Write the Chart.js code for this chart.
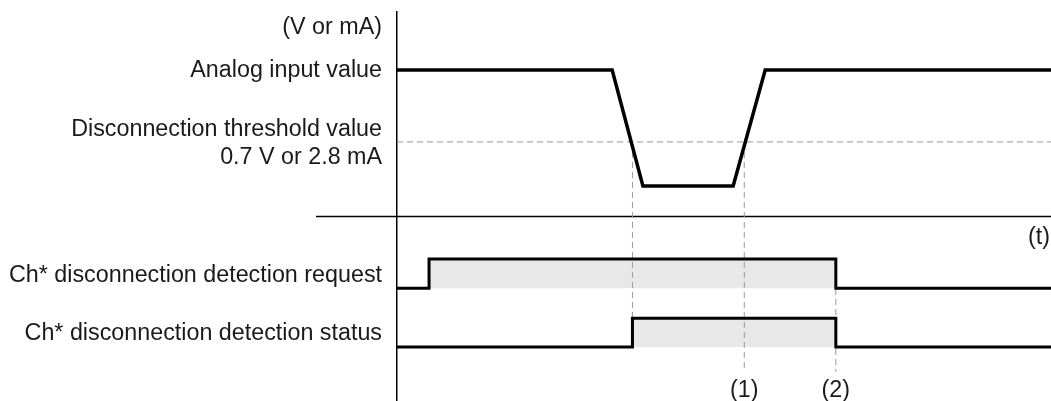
<!DOCTYPE html>
<html>
<head>
<meta charset="utf-8">
<script src="https://cdn.jsdelivr.net/npm/chart.js@4/dist/chart.umd.min.js"></script>
<style>
  html, body { margin: 0; padding: 0; background: #fff; }
  #wrap { width: 1051px; height: 401px; position: relative; }
</style>
</head>
<body>
<div id="wrap"><canvas id="c"></canvas></div>
<script>
// ---- Data (time in arbitrary units 0..100, level in arbitrary units 0..100) ----
const analogTimes   = [0, 32.9, 37.6, 51.4, 56.3, 100];
const analogLevels  = [85.1, 85.1, 55.3, 55.3, 85.1, 85.1];
const thresholdLevel = 66.6;
const timeAxisLevel  = 47.6;

const requestTimes  = [0, 4.9, 67.1, 100];
const requestLevels = [29.0, 36.5, 29.0, 29.0];
const requestLow    = 29.0;

const statusTimes   = [0, 36.0, 67.1, 100];
const statusLevels  = [13.9, 21.3, 13.9, 13.9];
const statusLow     = 13.9;

// dashed guide lines: [time, fromLevel, toLevel]
const guideTimes  = [36.0, 53.1, 67.1];
const guideFrom   = [66.6, 66.6, 36.5];
const guideTo     = [21.3, 7.5, 7.5];

// row labels
const rowLabelLevels = [96.0, 85.0, 66.1, 32.2, 17.3];
const rowLabels = [
  "(V or mA)",
  "Analog input value",
  ["Disconnection threshold value", "0.7 V or 2.8 mA"],
  "Ch* disconnection detection request",
  "Ch* disconnection detection status"
];
const markerLabels = ["(1)", "(2)"];
const markerTimes  = [53.1, 67.1];
const markerLevel  = 2.7;
const timeUnitLabel = "(t)";
const timeUnitLevel = 41.9;

const toPts = (xs, ys) => xs.map((x, i) => ({ x: x, y: ys[i] }));

const datasets = [
  { label: "analog", data: toPts(analogTimes, analogLevels),
    borderColor: "#000", borderWidth: 3.5, pointRadius: 0, fill: false,
    borderJoinStyle: "miter", borderCapStyle: "butt" },
  { label: "request", data: toPts(requestTimes, requestLevels), stepped: "before",
    borderColor: "#000", borderWidth: 3, pointRadius: 0,
    fill: { value: requestLow }, backgroundColor: "#e8e8e8",
    borderJoinStyle: "miter", borderCapStyle: "butt" },
  { label: "status", data: toPts(statusTimes, statusLevels), stepped: "before",
    borderColor: "#000", borderWidth: 3, pointRadius: 0,
    fill: { value: statusLow }, backgroundColor: "#e8e8e8",
    borderJoinStyle: "miter", borderCapStyle: "butt" },
  { label: "threshold", data: toPts([0, 100], [thresholdLevel, thresholdLevel]),
    borderColor: "#999", borderWidth: 1, borderDash: [6, 4], pointRadius: 0, fill: false }
];
guideTimes.forEach((t, i) => {
  datasets.push({ label: "guide" + i, data: toPts([t, t], [guideFrom[i], guideTo[i]]),
    borderColor: "#999", borderWidth: 1, borderDash: [6, 4], pointRadius: 0, fill: false });
});

const FONT = "'Liberation Sans', Arial, sans-serif";
const FONT_SIZE = 23.3;

const extras = {
  id: "extras",
  beforeDatasetsDraw(chart) {
    const { ctx, scales: { x, y } } = chart;
    const py = Math.round(y.getPixelForValue(timeAxisLevel)) + 0.5;
    ctx.save();
    ctx.strokeStyle = "#000";
    ctx.lineWidth = 1.5;
    ctx.beginPath();
    ctx.moveTo(chart.chartArea.left - 81, py);
    ctx.lineTo(chart.width, py);
    ctx.stroke();
    ctx.restore();
  },
  afterDatasetsDraw(chart) {
    const { ctx, scales: { x, y } } = chart;
    ctx.save();
    ctx.fillStyle = "#1a1a1a";
    ctx.font = FONT_SIZE + "px " + FONT;
    ctx.textBaseline = "middle";
    ctx.textAlign = "center";
    markerLabels.forEach((lab, i) => {
      ctx.fillText(lab, x.getPixelForValue(markerTimes[i]), y.getPixelForValue(markerLevel));
    });
    ctx.textAlign = "right";
    ctx.fillText(timeUnitLabel, chart.width - 1, y.getPixelForValue(timeUnitLevel));
    ctx.restore();
  }
};

new Chart(document.getElementById("c"), {
  type: "line",
  data: { datasets },
  options: {
    responsive: true,
    maintainAspectRatio: false,
    animation: false,
    layout: { padding: { top: 12, left: 0, right: 0, bottom: 0 } },
    plugins: {
      legend: { display: false },
      tooltip: { enabled: false },
      filler: { drawTime: "beforeDatasetsDraw" }
    },
    scales: {
      x: { type: "linear", min: 0, max: 100, display: false },
      y: {
        type: "linear", min: 0, max: 100,
        grid: { display: false, drawTicks: false },
        border: { display: true, color: "#000", width: 1.5 },
        afterBuildTicks(scale) { scale.ticks = rowLabelLevels.map(v => ({ value: v })); },
        afterFit(scale) {
          scale.width = 397;
          scale.paddingTop = 0;
          scale.paddingBottom = 0;
        },
        ticks: {
          autoSkip: false,
          padding: 15,
          color: "#1a1a1a",
          font: { family: FONT, size: FONT_SIZE, lineHeight: 1.2 },
          callback: (v, i) => rowLabels[i]
        }
      }
    }
  },
  plugins: [extras]
});
</script>
</body>
</html>
